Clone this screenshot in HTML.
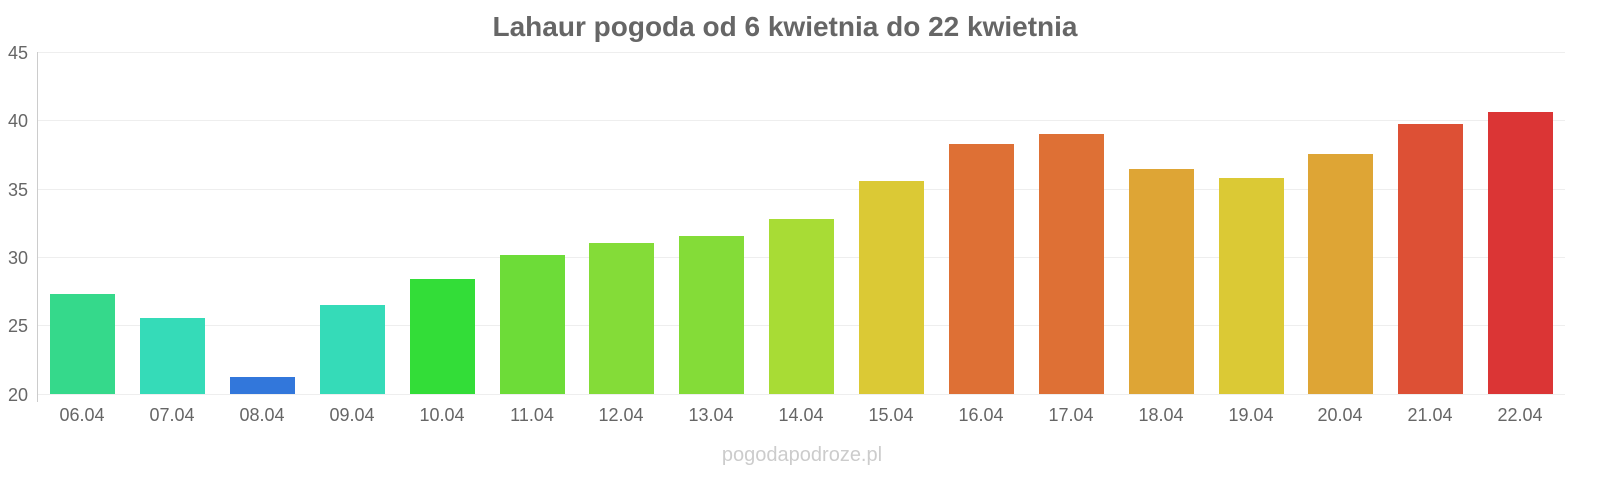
<!DOCTYPE html>
<html><head><meta charset="utf-8"><style>
body{margin:0;background:#fff;}
svg{display:block;font-family:"Liberation Sans",sans-serif;}
</style></head><body>
<svg width="1600" height="480" viewBox="0 0 1600 480">
<text x="785" y="36" text-anchor="middle" font-size="28" font-weight="bold" fill="#666">Lahaur pogoda od 6 kwietnia do 22 kwietnia</text>
<g stroke="#eee" stroke-width="1">
<line x1="38" x2="1565" y1="52.5" y2="52.5"/><line x1="38" x2="1565" y1="120.5" y2="120.5"/>
<line x1="38" x2="1565" y1="189.5" y2="189.5"/><line x1="38" x2="1565" y1="257.5" y2="257.5"/>
<line x1="38" x2="1565" y1="325.5" y2="325.5"/><line x1="38" x2="1565" y1="394.5" y2="394.5"/>
</g>
<line x1="37.5" x2="37.5" y1="52" y2="402" stroke="#ccc"/>
<g font-size="18" fill="#666" text-anchor="end">
<text x="28" y="59">45</text><text x="28" y="127">40</text><text x="28" y="196">35</text>
<text x="28" y="264">30</text><text x="28" y="332">25</text><text x="28" y="401">20</text>
</g>
<g>
<rect x="50" y="294" width="65" height="100" fill="#35d98b"/>
<rect x="140" y="318" width="65" height="76" fill="#35dbb8"/>
<rect x="230" y="377" width="65" height="17" fill="#3277db"/>
<rect x="320" y="305" width="65" height="89" fill="#35dbb8"/>
<rect x="410" y="279" width="65" height="115" fill="#33dd38"/>
<rect x="500" y="255" width="65" height="139" fill="#6ddc38"/>
<rect x="589" y="243" width="65" height="151" fill="#84dc38"/>
<rect x="679" y="236" width="65" height="158" fill="#84dc38"/>
<rect x="769" y="219" width="65" height="175" fill="#a8dc35"/>
<rect x="859" y="181" width="65" height="213" fill="#dbc935"/>
<rect x="949" y="144" width="65" height="250" fill="#de7035"/>
<rect x="1039" y="134" width="65" height="260" fill="#de7035"/>
<rect x="1129" y="169" width="65" height="225" fill="#dea535"/>
<rect x="1219" y="178" width="65" height="216" fill="#dbc935"/>
<rect x="1308" y="154" width="65" height="240" fill="#dea535"/>
<rect x="1398" y="124" width="65" height="270" fill="#dd5035"/>
<rect x="1488" y="112" width="65" height="282" fill="#db3535"/>
</g>
<g font-size="18" fill="#666" text-anchor="middle">
<text x="82" y="421">06.04</text><text x="172" y="421">07.04</text><text x="262" y="421">08.04</text>
<text x="352" y="421">09.04</text><text x="442" y="421">10.04</text><text x="532" y="421">11.04</text>
<text x="621" y="421">12.04</text><text x="711" y="421">13.04</text><text x="801" y="421">14.04</text>
<text x="891" y="421">15.04</text><text x="981" y="421">16.04</text><text x="1071" y="421">17.04</text>
<text x="1161" y="421">18.04</text><text x="1251" y="421">19.04</text><text x="1340" y="421">20.04</text>
<text x="1430" y="421">21.04</text><text x="1520" y="421">22.04</text>
</g>
<text x="802" y="461" text-anchor="middle" font-size="20" fill="#ccc">pogodapodroze.pl</text>
</svg>
</body></html>
